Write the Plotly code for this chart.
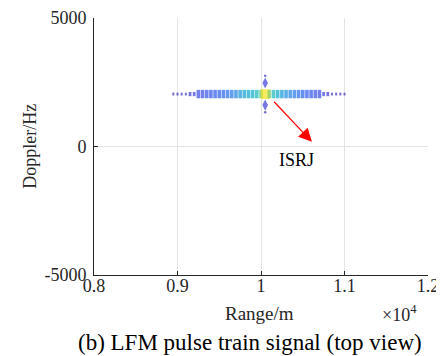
import plotly.graph_objects as go

# ---- data ----
band_doppler = 2040
band_range = [8950, 9000, 9050, 9100, 9150, 9200, 9250, 9300, 9350, 9400,
              9450, 9500, 9550, 9600, 9650, 9700, 9750, 9800, 9850, 9900,
              9950, 10000, 10050, 10100, 10150, 10200, 10250, 10300, 10350, 10400,
              10450, 10500, 10550, 10600, 10650, 10700, 10750, 10800, 10850, 10900,
              10950, 11000]
band_level = [0.02, 0.03, 0.04, 0.05, 0.07, 0.09, 0.11, 0.12, 0.14, 0.15,
              0.17, 0.18, 0.20, 0.22, 0.25, 0.28, 0.32, 0.35, 0.38, 0.40,
              0.45, 0.55, 0.92, 0.60, 0.45, 0.38, 0.34, 0.30, 0.27, 0.24,
              0.22, 0.20, 0.17, 0.15, 0.13, 0.11, 0.09, 0.07, 0.05, 0.04,
              0.03, 0.02]
side_range = [10050, 10050, 10050, 10050]
side_doppler = [2470, 1610, 2750, 1330]
side_level = [0.08, 0.08, 0.03, 0.03]

x_ticks = [8000, 9000, 10000, 11000, 12000]
x_ticktext = ["0.8", "0.9", "1", "1.1", "1.2"]
y_ticks = [-5000, 0, 5000]
y_ticktext = ["-5000", "0", "5000"]

arrow_start = (10140, 1800)
arrow_end = (10610, 180)
label_pos = (10430, -520)

parula = [
    [0.0, "rgb(62,38,168)"], [0.1, "rgb(60,70,230)"], [0.2, "rgb(40,100,240)"],
    [0.3, "rgb(25,140,225)"], [0.4, "rgb(8,175,200)"], [0.5, "rgb(40,190,165)"],
    [0.6, "rgb(113,204,105)"], [0.7, "rgb(192,188,59)"], [0.8, "rgb(253,189,60)"],
    [0.9, "rgb(245,220,30)"], [1.0, "rgb(249,251,21)"],
]

def mwidth(v):
    if v >= 0.9:
        return 9
    if v < 0.06:
        return 2
    if v < 0.1:
        return 2.8
    return 3.6

def mheight(v):
    if v >= 0.9:
        return 7
    if v < 0.06:
        return 2
    if v < 0.1:
        return 3
    return 6

font = "Liberation Serif, Times New Roman, serif"
fig = go.Figure()
fig.add_trace(go.Scatter(
    x=band_range, y=[band_doppler] * len(band_range), mode="markers",
    marker=dict(symbol="line-ns", size=[mheight(v) for v in band_level],
                line=dict(width=[mwidth(v) for v in band_level], color=band_level,
                          colorscale=parula, cmin=0, cmax=1)),
    hoverinfo="skip", showlegend=False))
fig.add_trace(go.Scatter(
    x=side_range, y=side_doppler, mode="markers",
    marker=dict(symbol=["diamond-tall", "diamond-tall", "circle", "circle"],
                size=[8, 8, 2.5, 2.5],
                color=side_level, colorscale=parula, cmin=0, cmax=1,
                line=dict(width=0)),
    hoverinfo="skip", showlegend=False))

axis_common = dict(showline=True, linecolor="#262626", linewidth=1, mirror=False,
                   ticks="inside", ticklen=4, tickcolor="#262626", automargin=False,
                   showgrid=True, gridcolor="#e3e3e3", gridwidth=1, zeroline=False,
                   tickfont=dict(family=font, size=18, color="#262626"))
fig.update_xaxes(range=[8000, 12000], tickvals=x_ticks, ticktext=x_ticktext,
                 ticklabelstandoff=-6, **axis_common)
fig.update_yaxes(range=[-5000, 5000], tickvals=y_ticks, ticktext=y_ticktext,
                 ticklabelstandoff=3, **axis_common)

def label(x, y, text, size, color="#262626", angle=0):
    return dict(x=x, y=y, xref="paper", yref="paper", text=text, textangle=angle,
                xanchor="center", yanchor="middle", showarrow=False,
                font=dict(family=font, size=size, color=color))

anns = [
    dict(x=arrow_end[0], y=arrow_end[1], ax=arrow_start[0], ay=arrow_start[1],
         xref="x", yref="y", axref="x", ayref="y", text="", showarrow=True,
         arrowhead=2, arrowsize=2.2, arrowwidth=1.2, arrowcolor="#ff0000"),
    dict(x=label_pos[0], y=label_pos[1], xref="x", yref="y", text="ISRJ",
         xanchor="center", yanchor="middle",
         showarrow=False, font=dict(family=font, size=18, color="black")),
    label(-0.192, 0.502, "Doppler/Hz", 18, angle=-90),
    label(0.497, -0.148, "Range/m", 19),
    label(0.916, -0.150, "×10<sup>4</sup>", 18),
    label(0.467, -0.261, "(b) LFM pulse train signal (top view)", 23, color="black"),
]
# page has an 8px body margin, so the figure is 8px smaller and offset
fig.update_layout(width=436, height=348, margin=dict(l=86, r=16, t=10, b=81),
                  paper_bgcolor="white", plot_bgcolor="white", annotations=anns)
fig.write_html("out.html")
